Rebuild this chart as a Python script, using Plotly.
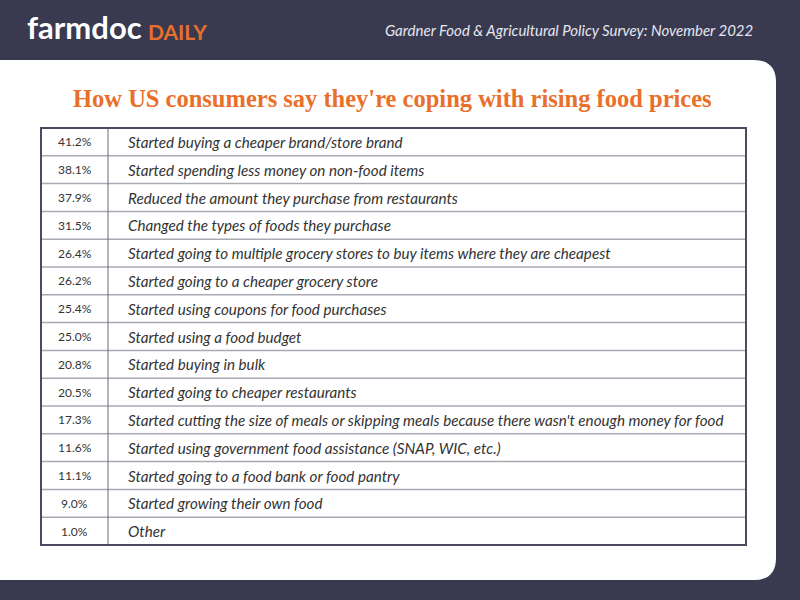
import plotly.graph_objects as go

pcts = ["41.2%","38.1%","37.9%","31.5%","26.4%","26.2%","25.4%","25.0%","20.8%","20.5%","17.3%","11.6%","11.1%","9.0%","1.0%"]
responses = [
 "Started buying a cheaper brand/store brand",
 "Started spending less money on non-food items",
 "Reduced the amount they purchase from restaurants",
 "Changed the types of foods they purchase",
 "Started going to multiple grocery stores to buy items where they are cheapest",
 "Started going to a cheaper grocery store",
 "Started using coupons for food purchases",
 "Started using a food budget",
 "Started buying in bulk",
 "Started going to cheaper restaurants",
 "Started cutting the size of meals or skipping meals because there wasn't enough money for food",
 "Started using government food assistance (SNAP, WIC, etc.)",
 "Started going to a food bank or food pantry",
 "Started growing their own food",
 "Other",
]

DARK = "#393a50"
ORANGE = "#e8702a"
n = len(pcts)
top, bot = 128, 545
rh = (bot - top) / n
x0, xm, x1 = 41, 108, 746

fig = go.Figure()
shapes = []
r = 22
shapes.append(dict(type="path", xref="x", yref="y",
    path=f"M 0 60 L {776-r} 60 Q 776 60 776 {60+r} L 776 {580-r} Q 776 580 {776-r} 580 L 0 580 Z",
    fillcolor="white", line=dict(width=0), layer="below"))
for i in range(1, n):
    y = top + i * rh
    shapes.append(dict(type="line", xref="x", yref="y", x0=x0, x1=x1, y0=y, y1=y,
                       line=dict(color="#a9aab4", width=1.5)))
shapes.append(dict(type="line", xref="x", yref="y", x0=xm, x1=xm, y0=top, y1=bot,
                   line=dict(color="#6a6b7c", width=1)))
shapes.append(dict(type="rect", xref="x", yref="y", x0=x0, x1=x1, y0=top, y1=bot,
                   line=dict(color="#4a4b60", width=2)))

ann = []
for i, (p, t) in enumerate(zip(pcts, responses)):
    yc = top + (i + 0.5) * rh
    ann.append(dict(x=(x0 + xm) / 2, y=yc, text=p, showarrow=False, xanchor="center",
                    font=dict(family="Lato", size=12, color="#333")))
    ann.append(dict(x=xm + 18, y=yc, text=f"<i>{t}</i>", showarrow=False, xanchor="left",
                    font=dict(family="Lato", size=15.2, color="#333")))
ann.append(dict(x=25, y=27, text="<b>farmdoc</b>", showarrow=False, xanchor="left",
                font=dict(family="Lato", size=31, color="white")))
ann.append(dict(x=146, y=31, text="<b>DAILY</b>", showarrow=False, xanchor="left",
                font=dict(family="Lato", size=21, color=ORANGE)))
ann.append(dict(x=755, y=30, text="<i>Gardner Food &amp; Agricultural Policy Survey: November 2022</i>",
                showarrow=False, xanchor="right", font=dict(family="Lato", size=15, color="#e6e6ee")))
ann.append(dict(x=392, y=98, text="<b>How US consumers say they're coping with rising food prices</b>",
                showarrow=False, xanchor="center", font=dict(family="Liberation Serif", size=24.5, color=ORANGE)))

fig.update_layout(width=800, height=600, margin=dict(l=0, r=0, t=0, b=0),
                  paper_bgcolor=DARK, plot_bgcolor=DARK, shapes=shapes, annotations=ann,
                  showlegend=False,
                  xaxis=dict(range=[0, 800], visible=False, fixedrange=True),
                  yaxis=dict(range=[600, 0], visible=False, fixedrange=True))
fig.write_html("out.html", config={"displayModeBar": False},
               post_script="document.body.style.margin='0';document.body.style.background='#393a50';document.body.style.overflow='hidden';")
